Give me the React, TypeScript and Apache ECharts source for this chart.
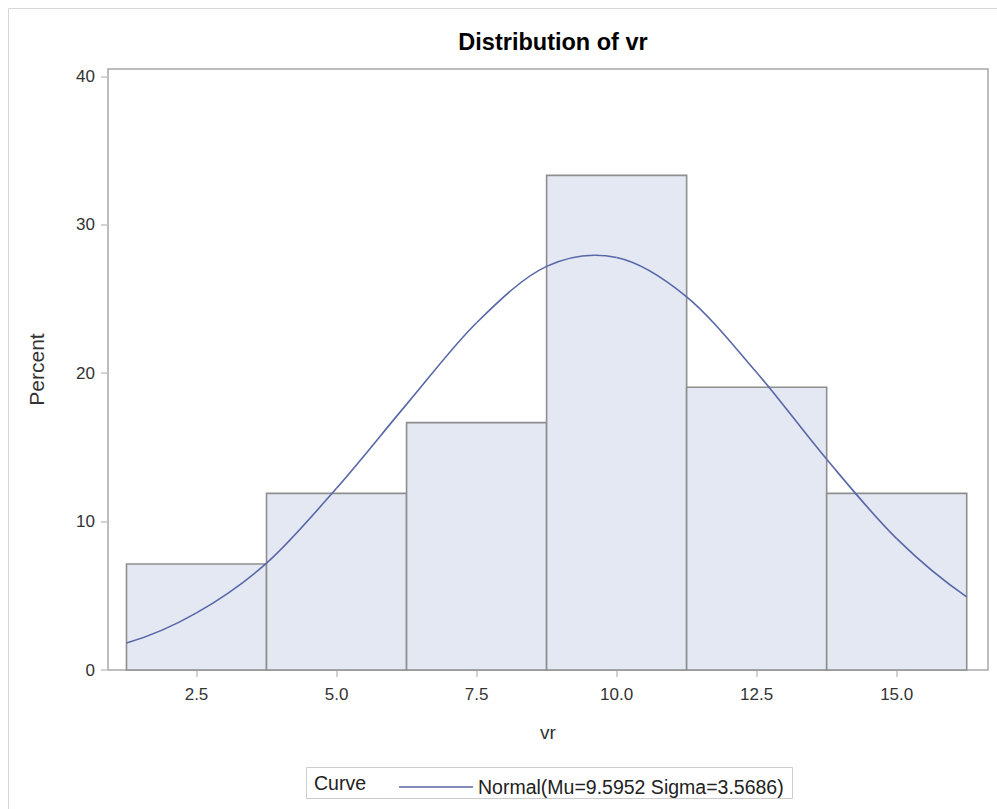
import React, { useEffect, useRef } from "react";
import * as echarts from "echarts";

const binEdges = [1.25, 3.75, 6.25, 8.75, 11.25, 13.75, 16.25];
const percents = [7.14, 11.9, 16.67, 33.33, 19.05, 11.9];
// Curve heights at these x positions
const curveX = [1.25, 2.5, 3.75, 5, 6.25, 7.5, 8.75, 9.6, 10, 11.25, 12.5, 13.75, 15, 16.25];
const curveY = [1.82, 3.85, 7.2, 12.25, 17.9, 23.4, 27.2, 27.95, 27.8, 25.15, 20.05, 14.2, 8.85, 4.93];
const xTicks = [2.5, 5, 7.5, 10, 12.5, 15];
const yTicks = [0, 10, 20, 30, 40];
const titleText = "Distribution of vr";
const curveName = "Normal(Mu=9.5952 Sigma=3.5686)";

const FONT = "'Liberation Sans', Arial, sans-serif";
const CURVE_COLOR = "#5867a8";

// Smooth drawing through the given pixel points (cubic Hermite with 3-point slopes)
function smoothSegments(pts: number[][]) {
  const n = pts.length;
  const h: number[] = [];
  const d: number[] = [];
  for (let i = 0; i < n - 1; i++) {
    h.push(pts[i + 1][0] - pts[i][0]);
    d.push((pts[i + 1][1] - pts[i][1]) / h[i]);
  }
  const m: number[] = [];
  for (let i = 0; i < n; i++) {
    if (i === 0) m.push(((2 * h[0] + h[1]) * d[0] - h[0] * d[1]) / (h[0] + h[1]));
    else if (i === n - 1) {
      const a = h[n - 2], b = h[n - 3];
      m.push(((2 * a + b) * d[n - 2] - a * d[n - 3]) / (a + b));
    } else m.push((h[i] * d[i - 1] + h[i - 1] * d[i]) / (h[i - 1] + h[i]));
  }
  const segs = [];
  for (let i = 0; i < n - 1; i++) {
    const k = h[i] / 3;
    segs.push({
      type: "bezierCurve",
      shape: {
        x1: pts[i][0],
        y1: pts[i][1],
        cpx1: pts[i][0] + k,
        cpy1: pts[i][1] + m[i] * k,
        cpx2: pts[i + 1][0] - k,
        cpy2: pts[i + 1][1] - m[i + 1] * k,
        x2: pts[i + 1][0],
        y2: pts[i + 1][1],
      },
      style: { fill: "none", stroke: CURVE_COLOR, lineWidth: 1.6 },
    });
  }
  return segs;
}

export default function App() {
  const ref = useRef<HTMLDivElement>(null);
  useEffect(() => {
    if (!ref.current) return;
    const chart = echarts.init(ref.current, undefined, { renderer: "svg" });
    const barData = percents.map((p, i) => [binEdges[i], binEdges[i + 1], p]);
    const lineData = curveX.map((x, i) => [x, curveY[i]]);
    chart.setOption({
      animation: false,
      backgroundColor: "#ffffff",
      textStyle: { fontFamily: FONT },
      title: {
        text: titleText,
        left: 548,
        top: 25,
        textAlign: "center",
        textStyle: { fontSize: 23.5, fontWeight: "bold", color: "#000", fontFamily: FONT },
      },
      grid: {
        left: 108,
        right: 9,
        top: 69,
        bottom: 139,
        show: true,
        borderColor: "#a8a8a8",
        borderWidth: 1.5,
        backgroundColor: "#ffffff",
      },
      xAxis: {
        type: "value",
        min: 0.92,
        max: 16.63,
        name: "vr",
        nameLocation: "middle",
        nameGap: 53,
        nameTextStyle: { fontSize: 19, color: "#333", fontFamily: FONT },
        axisLine: { show: false },
        splitLine: { show: false },
        axisTick: {
          show: true,
          customValues: xTicks,
          length: 7,
          lineStyle: { color: "#c4c4c4", width: 1.5 },
        },
        axisLabel: {
          customValues: xTicks,
          formatter: (v: number) => v.toFixed(1),
          fontSize: 17,
          color: "#333",
          margin: 16,
          fontFamily: FONT,
        },
      },
      yAxis: {
        type: "value",
        min: 0,
        max: 40.5,
        name: "Percent",
        nameLocation: "middle",
        nameGap: 61,
        nameTextStyle: { fontSize: 21, color: "#333", fontFamily: FONT },
        axisLine: { show: false },
        splitLine: { show: false },
        axisTick: {
          show: true,
          customValues: yTicks,
          length: 7,
          lineStyle: { color: "#c4c4c4", width: 1.5 },
        },
        axisLabel: {
          customValues: yTicks,
          fontSize: 17,
          color: "#333",
          margin: 13,
          fontFamily: FONT,
        },
      },
      legend: {
        show: true,
        left: 394,
        top: 772,
        icon: "rect",
        itemWidth: 74,
        itemHeight: 1.6,
        itemGap: 10,
        data: [curveName],
        textStyle: { fontSize: 19.5, color: "#222", fontFamily: FONT },
      },
      graphic: [
        {
          type: "rect",
          silent: true,
          shape: { x: 8.5, y: 8.5, width: 1100, height: 1100 },
          style: { fill: "none", stroke: "#d6d6d6", lineWidth: 1 },
        },
        {
          type: "rect",
          silent: true,
          shape: { x: 306.5, y: 767.5, width: 486, height: 31 },
          style: { fill: "#ffffff", stroke: "#cccccc", lineWidth: 1 },
          z: -1,
        },
        {
          type: "text",
          silent: true,
          x: 314,
          y: 783,
          style: {
            text: "Curve",
            fontSize: 19.5,
            fill: "#222",
            fontFamily: FONT,
            verticalAlign: "middle",
            align: "left",
          },
        },
      ],
      series: [
        {
          type: "custom",
          name: "Histogram",
          data: barData,
          encode: { x: [0, 1], y: 2 },
          renderItem: (params: any, api: any) => {
            const x0 = api.value(0);
            const x1 = api.value(1);
            const y = api.value(2);
            const p0 = api.coord([x0, y]);
            const p1 = api.coord([x1, 0]);
            return {
              type: "rect",
              shape: { x: p0[0], y: p0[1], width: p1[0] - p0[0], height: p1[1] - p0[1] },
              style: { fill: "#e3e8f2", stroke: "#8e8e8e", lineWidth: 1.6 },
            };
          },
          z: 2,
        },
        {
          type: "custom",
          name: curveName,
          data: lineData,
          encode: { x: 0, y: 1 },
          itemStyle: { color: CURVE_COLOR },
          renderItem: (params: any, api: any) => {
            if (params.dataIndex !== 0) return null;
            const pts = lineData.map((p) => api.coord(p));
            return { type: "group", children: smoothSegments(pts) };
          },
          z: 3,
        },
      ],
    });
    return () => chart.dispose();
  }, []);
  return (
    <div
      ref={ref}
      style={{ position: "fixed", left: 0, top: 0, width: 997, height: 809 }}
    />
  );
}
